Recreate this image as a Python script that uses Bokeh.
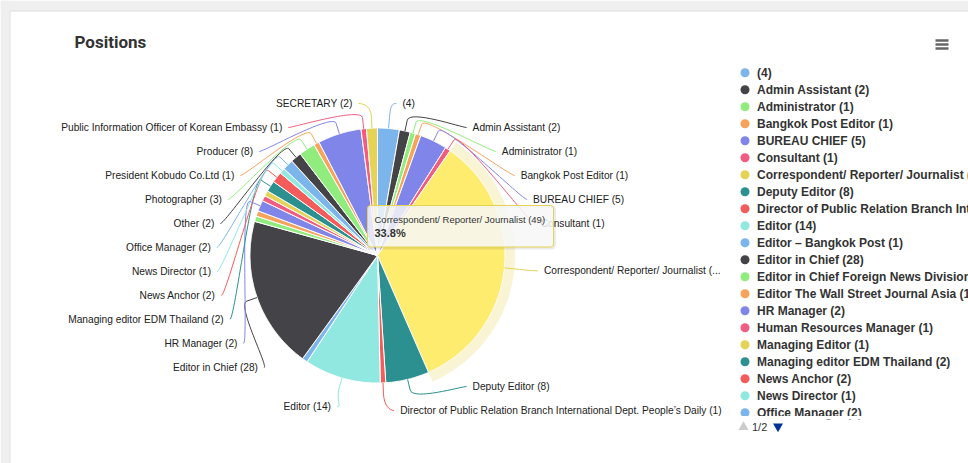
import math
from bokeh.plotting import figure
from bokeh.models import Range1d
from bokeh.core.properties import value
from bokeh.embed import file_html
from bokeh.resources import INLINE

# ---------------- data ----------------
title = "Positions"
names = ["", "Admin Assistant", "Administrator", "Bangkok Post Editor", "BUREAU CHIEF", "Consultant",
         "Correspondent/ Reporter/ Journalist", "Deputy Editor",
         "Director of Public Relation Branch International Dept. People\u2019s Daily",
         "Editor", "Editor \u2013 Bangkok Post", "Editor in Chief", "Editor in Chief Foreign News Division",
         "Editor The Wall Street Journal Asia", "HR Manager", "Human Resources Manager", "Managing Editor",
         "Managing editor EDM Thailand", "News Anchor", "News Director", "Office Manager", "Other",
         "Photographer", "President Kobudo Co.Ltd", "Producer",
         "Public Information Officer of Korean Embassy", "SECRETARY"]
counts = [4, 2, 1, 1, 5, 1, 49, 8, 1, 14, 1, 28, 1, 1, 2, 1, 1, 2, 2, 1, 2, 2, 3, 1, 8, 1, 2]
palette = ["#7cb5ec", "#434348", "#90ed7d", "#f7a35c", "#8085e9",
           "#f15c80", "#e4d354", "#2b908f", "#f45b5b", "#91e8e1"]
hovered = "Correspondent/ Reporter/ Journalist"
legend_page = "1/2"

# ---------------- layout constants (page pixels) ----------------
W, H = 968, 463
CX, CY, R = 377.0, 255.0, 127.5
LABEL_DIST = 30.0
SLOT = 24.0
LAB_TOP, LAB_BOT = 91.0, 422.0
LCY, LA, LB_TOP, LB_BOT = 257.0, 157.0, 154.7, 153.5
RIGHT_LIMIT, LEFT_LIMIT = 724.0, 50.0
FONT = "Liberation Sans"
LAB_SIZE = 10.2

ARIAL = {' ': 278, '(': 333, ')': 333, '/': 278, '.': 278, '\u2019': 222, "'": 191, '-': 333,
         '\u2013': 556, '%': 889}
for ch, w in zip("abcdefghijklmnopqrstuvwxyz",
                 [556, 556, 500, 556, 556, 278, 556, 556, 222, 222, 500, 222, 833, 556, 556, 556, 556,
                  333, 500, 278, 556, 500, 722, 500, 500, 500]):
    ARIAL[ch] = w
for ch, w in zip("ABCDEFGHIJKLMNOPQRSTUVWXYZ",
                 [667, 667, 722, 722, 667, 611, 778, 722, 278, 500, 667, 556, 833, 722, 778, 667, 778,
                  722, 667, 611, 722, 667, 944, 667, 667, 611]):
    ARIAL[ch] = w
for ch in "0123456789":
    ARIAL[ch] = 556


def text_w(s, size):
    return sum(ARIAL.get(c, 556) for c in s) / 1000.0 * size


def fit_text(s, avail, size):
    if text_w(s, size) <= avail:
        return s
    for k in range(len(s), 0, -1):
        t = s[:k] + "..."
        if text_w(t, size) <= avail:
            return t
    return "..."


def label_of(n, v):
    return (f"{n} ({v})").strip()


total = float(sum(counts))
colors = [palette[i % len(palette)] for i in range(len(counts))]


def brighten(hx, amt=0.1):
    r, g, b = int(hx[1:3], 16), int(hx[3:5], 16), int(hx[5:7], 16)
    f = lambda c: min(255, int(c + 255 * amt))
    return "#%02x%02x%02x" % (f(r), f(g), f(b))


# angles clockwise from 12 o'clock
starts, ends, cum = [], [], 0.0
for v in counts:
    starts.append(cum / total * 2 * math.pi)
    cum += v
    ends.append(cum / total * 2 * math.pi)
mids = [(a + b) / 2 for a, b in zip(starts, ends)]


def pt(theta, rad):
    return CX + rad * math.sin(theta), CY - rad * math.cos(theta)


p = figure(width=W, height=H, x_range=Range1d(0, W), y_range=Range1d(H, 0),
           output_backend="svg", toolbar_location=None, min_border=0,
           x_axis_location=None, y_axis_location=None, outline_line_color=None,
           background_fill_color="white", border_fill_color="white")
p.grid.visible = False

# page frame
p.quad(left=[0], right=[W], top=[0], bottom=[10.5], fill_color="#efefef", line_color=None)
p.quad(left=[0], right=[9], top=[0], bottom=[H], fill_color="#efefef", line_color=None)
p.segment(x0=[9.5], y0=[10.5], x1=[9.5], y1=[H], line_color="#dddddd", line_width=1)
p.segment(x0=[9.5], y0=[10.5], x1=[W], y1=[10.5], line_color="#dddddd", line_width=1)

# title + menu icon
p.text(x=[74], y=[41], text=[title], text_align="left", text_baseline="middle",
       text_font=value("Roboto"), text_font_style="bold",
       text_font_size=value("17px"), text_color="#333333")
p.segment(x0=[935, 935, 935], y0=[40, 44, 48], x1=[948, 948, 948], y1=[40, 44, 48],
          line_color="#666666", line_width=2.5)

# halo for hovered slice
hi_idx = names.index(hovered)
steps = 80
a0, a1 = starts[hi_idx], ends[hi_idx]
outer = [pt(a0 + (a1 - a0) * k / steps, R + 10) for k in range(steps + 1)]
inner = [pt(a1 - (a1 - a0) * k / steps, R) for k in range(steps + 1)]
ring = outer + inner
p.patch(x=[q[0] for q in ring], y=[q[1] for q in ring], fill_color=colors[hi_idx],
        fill_alpha=0.25, line_color=None)

# slices
xs, ys, fills = [], [], []
for i, (a, b) in enumerate(zip(starts, ends)):
    n = max(2, int((b - a) / math.radians(0.5)))
    pts = [(CX, CY)] + [pt(a + (b - a) * k / n, R) for k in range(n + 1)]
    xs.append([q[0] for q in pts])
    ys.append([q[1] for q in pts])
    fills.append(brighten(colors[i]) if i == hi_idx else colors[i])
p.patches(xs=xs, ys=ys, fill_color=fills, line_color="white", line_width=1)


# ---------------- data labels (Highcharts-like distribution) ----------------
def distribute(items, size, lo, hi):
    boxes = [{"t": [t], "k": [k], "size": size, "pos": 0.0} for t, k in items]
    overlapping = True
    while overlapping:
        for bx in boxes:
            c = (min(bx["t"]) + max(bx["t"])) / 2
            bx["pos"] = min(max(c - bx["size"] / 2, lo), hi - bx["size"])
        overlapping = False
        i = len(boxes) - 1
        while i > 0:
            a, b = boxes[i - 1], boxes[i]
            if a["pos"] + a["size"] > b["pos"] + 1e-9:
                a["size"] += b["size"]
                a["t"] += b["t"]
                a["k"] += b["k"]
                if a["pos"] + a["size"] > hi:
                    a["pos"] = hi - a["size"]
                boxes.pop(i)
                overlapping = True
            i -= 1
    out = {}
    for bx in boxes:
        for j, k in enumerate(bx["k"]):
            out[k] = bx["pos"] + size * j + size / 2
    return out


def label_offset(y):
    dy = y - LCY
    bb = LB_TOP if dy < 0 else LB_BOT
    t = min(1.0, (dy / bb) ** 2)
    return LA * math.sqrt(1 - t) + 10


label_rows = []  # (x, y, text, side, idx)
for side in ("right", "left"):
    idxs = [i for i in range(len(counts)) if (mids[i] < math.pi) == (side == "right")]
    cap = int((LAB_BOT - LAB_TOP) // SLOT)
    order = sorted(idxs, key=lambda i: (counts[i], i))
    while len(idxs) > cap:
        drop = order.pop(0)
        idxs.remove(drop)
    items = sorted([(CY - math.cos(mids[i]) * (R + LABEL_DIST), i) for i in idxs])
    ypos = distribute(items, SLOT, LAB_TOP, LAB_BOT)
    for i in idxs:
        y = ypos[i]
        off = label_offset(y)
        txt = label_of(names[i], counts[i])
        if side == "right":
            x = CX + off
            txt = fit_text(txt, RIGHT_LIMIT - x, LAB_SIZE)
        else:
            x = CX - off
            txt = fit_text(txt, x - LEFT_LIMIT, LAB_SIZE)
        label_rows.append((x, y, txt, side, i))

# connectors
bz = dict(x0=[], y0=[], x1=[], y1=[], cx0=[], cy0=[], cx1=[], cy1=[], c=[])
sg = dict(x0=[], y0=[], x1=[], y1=[], c=[])
for x, y, txt, side, i in label_rows:
    sgn = 1 if side == "right" else -1
    sx = x - sgn * 6
    land = pt(mids[i], R)
    brk = pt(mids[i], R + 11)
    c2 = pt(mids[i], R + 22)
    bz["x0"].append(sx); bz["y0"].append(y)
    bz["cx0"].append(sx - sgn * 5); bz["cy0"].append(y)
    bz["cx1"].append(c2[0]); bz["cy1"].append(c2[1])
    bz["x1"].append(brk[0]); bz["y1"].append(brk[1])
    bz["c"].append(colors[i])
    sg["x0"].append(brk[0]); sg["y0"].append(brk[1])
    sg["x1"].append(land[0]); sg["y1"].append(land[1])
    sg["c"].append(colors[i])
p.bezier(x0=bz["x0"], y0=bz["y0"], x1=bz["x1"], y1=bz["y1"], cx0=bz["cx0"], cy0=bz["cy0"],
         cx1=bz["cx1"], cy1=bz["cy1"], line_color=bz["c"], line_width=1)
p.segment(x0=sg["x0"], y0=sg["y0"], x1=sg["x1"], y1=sg["y1"], line_color=sg["c"], line_width=1)

for side, align in (("right", "left"), ("left", "right")):
    rows = [r for r in label_rows if r[3] == side]
    p.text(x=[r[0] for r in rows], y=[r[1] for r in rows], text=[r[2] for r in rows],
           text_align=align, text_baseline="middle", text_font=value(FONT),
           text_font_size=value(f"{LAB_SIZE}px"), text_color="#222222")

# ---------------- legend (page 1) ----------------
LEG_X, LEG_Y0, LEG_STEP, LEG_ROWS = 744.5, 72.3, 17.0, 21
leg_idx = list(range(min(LEG_ROWS, len(counts))))
leg_y = [LEG_Y0 + LEG_STEP * k for k in range(len(leg_idx))]
p.scatter(x=[LEG_X] * len(leg_idx), y=leg_y, size=9, marker="circle",
          fill_color=[colors[i] for i in leg_idx], line_color=None)
p.text(x=[LEG_X + 12] * len(leg_idx), y=leg_y, text=[label_of(names[i], counts[i]) for i in leg_idx],
       text_align="left", text_baseline="middle", text_font=value(FONT), text_font_style="bold",
       text_font_size=value("12px"), text_color="#333333")
# legend clip
p.quad(left=[736], right=[W], top=[415.5], bottom=[419], fill_color="white", line_color=None)
# pagination
p.scatter(x=[743], y=[426.5], size=10, marker="triangle", fill_color="#cccccc", line_color=None)
p.text(x=[751.5], y=[426.5], text=[legend_page], text_align="left", text_baseline="middle",
       text_font=value(FONT), text_font_size=value("11px"), text_color="#333333")
p.scatter(x=[777.5], y=[426], size=10, marker="inverted_triangle", fill_color="#003399", line_color=None)

# ---------------- tooltip ----------------
TT_L, TT_R, TT_T, TT_B = 367, 553, 205, 246.5
p.quad(left=[TT_L + 1], right=[TT_R + 1], top=[TT_T + 1], bottom=[TT_B + 1], fill_color=None,
       line_color="black", line_alpha=0.08, line_width=3, border_radius=3)
p.quad(left=[TT_L], right=[TT_R], top=[TT_T], bottom=[TT_B], fill_color="#f7f7f7", fill_alpha=0.85,
       line_color=colors[hi_idx], line_width=1, border_radius=3)
pct = counts[hi_idx] / total * 100
p.text(x=[TT_L + 7], y=[218.5], text=[label_of(names[hi_idx], counts[hi_idx])], text_align="left",
       text_baseline="middle", text_font=value(FONT), text_font_size=value("9.5px"), text_color="#333333")
p.text(x=[TT_L + 7], y=[232.5], text=[f"{pct:.1f}%"], text_align="left", text_baseline="middle",
       text_font=value(FONT), text_font_style="bold", text_font_size=value("11px"), text_color="#333333")

open("out.html", "w").write(file_html(p, INLINE))
